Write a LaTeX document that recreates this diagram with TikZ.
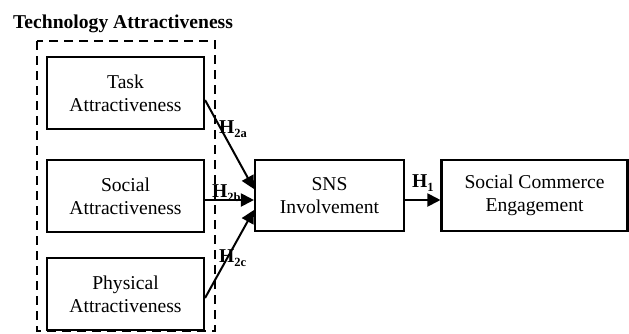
\documentclass[tikz,border=0pt]{standalone}
\usepackage{fontspec}
\setmainfont{Liberation Serif}
\usetikzlibrary{arrows.meta}
\tikzset{
  box/.style={draw, line width=2.1pt, align=center, inner sep=0pt,
    font=\fontsize{19.6}{23}\selectfont},
  grp/.style={draw, line width=2.2pt, dash pattern=on 9pt off 6pt},
  hyp/.style={anchor=base west, inner sep=0pt, font=\fontsize{19.6}{23}\selectfont\bfseries},
  conn/.style={line width=2pt, -{Triangle[length=13pt,width=13pt]}},
}
\newcommand{\hsub}[1]{\raisebox{-4pt}{\fontsize{12.5}{13}\selectfont\bfseries #1}}
\begin{document}
\begin{tikzpicture}[x=1pt,y=-1pt]
\useasboundingbox (0,0) rectangle (629,333);
\node[anchor=base west, inner sep=0pt, font=\fontsize{19.6}{23}\selectfont\bfseries] (title) at (13,28) {Technology Attractiveness};
\draw[grp] (37,41) rectangle (215,331);
\node[box, minimum width=157pt, minimum height=72pt] (task) at (125.5,93) {Task\\Attractiveness};
\node[box, minimum width=157pt, minimum height=72pt] (social) at (125.5,196) {Social\\Attractiveness};
\node[box, minimum width=157pt, minimum height=72pt] (phys) at (125.5,294) {Physical\\Attractiveness};
\node[box, minimum width=149pt, minimum height=71pt] (sns) at (329.5,195.5) {SNS\\Involvement};
\node[box, minimum width=186pt, minimum height=71pt] (sce) at (534.5,195.5) {Social Commerce\\Engagement};
\node[hyp] (h2a) at (219,133) {H\hsub{2a}};
\node[hyp] (h2b) at (212,197) {H\hsub{2b}};
\node[hyp] (h2c) at (219,262) {H\hsub{2c}};
\node[hyp] (h1) at (412,187) {H\hsub{1}};
\coordinate (ta) at (task.east |- 0,100);
\coordinate (pa) at (phys.east |- 0,298);
\coordinate (sa) at (social.east |- 0,200);
\draw[conn] (ta) -- (sns.west |- 0,189);
\draw[conn] (sa) -- (sns.west |- 0,200);
\draw[conn] (pa) -- (sns.west |- 0,210);
\draw[conn] (sns.east |- 0,200) -- (sce.west |- 0,200);
\end{tikzpicture}
\end{document}
